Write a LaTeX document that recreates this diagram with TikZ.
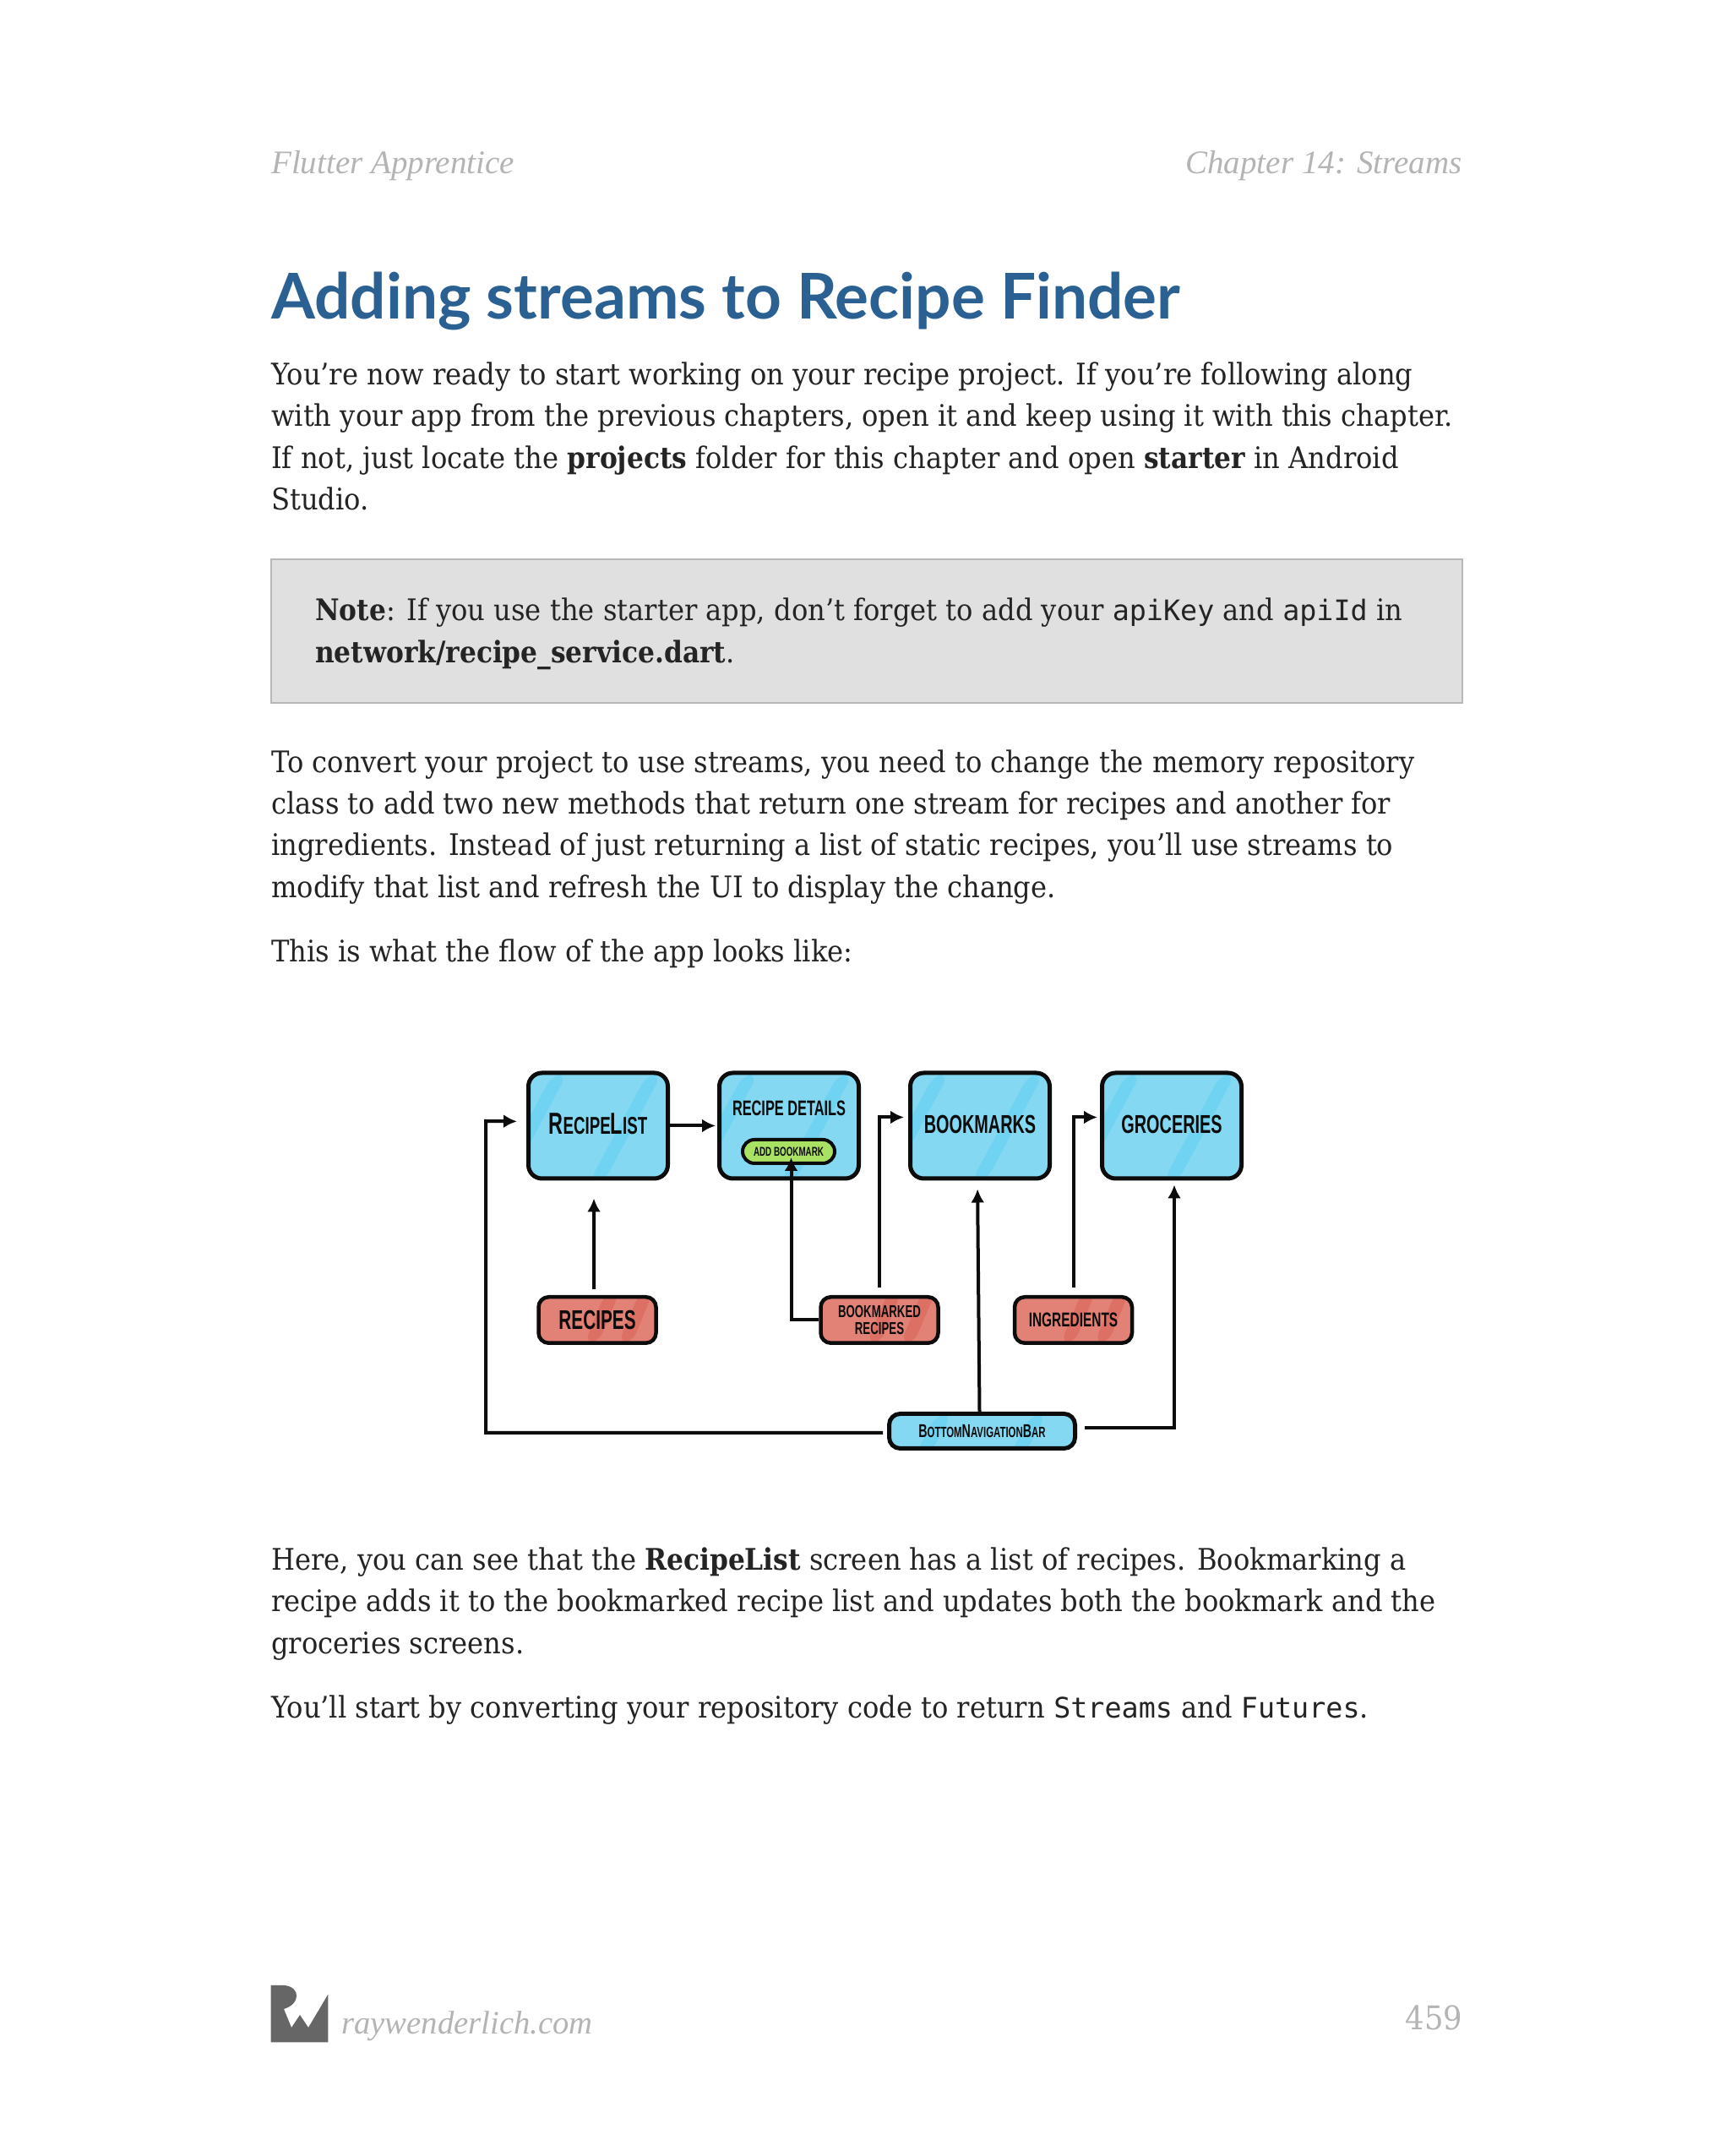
\documentclass[tikz,border=0pt]{standalone}
\usepackage{fontspec}
\usepackage{xcolor}
\usetikzlibrary{arrows.meta}
\setmainfont[FakeStretch=0.915, BoldFeatures={FakeStretch=0.89}]{DejaVu Serif}
\setmonofont[Scale=0.95]{DejaVu Sans Mono}
\newfontfamily\titlefont{Lato}
\newfontfamily\headfont{Liberation Serif}
\newfontfamily\sketchfont[FakeStretch=0.65]{Liberation Sans}
\definecolor{titleblue}{HTML}{2B6192}
\definecolor{headgrey}{HTML}{B4B4B4}
\definecolor{notegrey}{HTML}{E0E0E0}
\definecolor{noteline}{HTML}{B8B8B8}
\definecolor{screenblue}{HTML}{84D8F2}
\definecolor{streakblue}{HTML}{6FD3F1}
\definecolor{datared}{HTML}{E28277}
\definecolor{streakred}{HTML}{DD7065}
\definecolor{pillgreen}{HTML}{A9E162}
\definecolor{inkblack}{HTML}{0C0C0C}
\newcommand{\lettr}[1]{\scalebox{1.25}{#1}}
\newcommand{\sketchsize}[1]{\sketchfont\bfseries\fontsize{#1}{#1}\selectfont}

\begin{document}
\begin{tikzpicture}[
    >=Latex,
    para/.style={anchor=north west, inner sep=0pt, align=left, text=inkblack!90, font=\fontsize{10}{14.04}\selectfont},
    head/.style={anchor=base west, inner sep=0pt, text=headgrey, font=\headfont\itshape\fontsize{11.1}{13}\selectfont},
    screen/.style={draw=inkblack, line width=0.05cm, rounded corners=0.16cm, fill=screenblue, minimum width=1.65cm, minimum height=1.25cm, inner sep=0pt, text=inkblack,
      path picture={
        \fill[streakblue] ([xshift=-0.53cm]path picture bounding box.north) -- ++(0.17,0) -- ++(-0.7,-1.3) -- ++(-0.17,0) -- cycle;
        \fill[streakblue] ([xshift=0.59cm]path picture bounding box.north) -- ++(0.17,0) -- ++(-0.7,-1.3) -- ++(-0.17,0) -- cycle;
      }},
    data/.style={draw=inkblack, line width=0.045cm, rounded corners=0.12cm, fill=datared, minimum width=1.39cm, minimum height=0.545cm, inner sep=0pt, text=inkblack,
      path picture={
        \fill[streakred] ([xshift=-0.15cm]path picture bounding box.south) -- ++(0.16,0) -- ++(0.25,0.6) -- ++(-0.16,0) -- cycle;
        \fill[streakred] ([xshift=0.25cm]path picture bounding box.south) -- ++(0.16,0) -- ++(0.25,0.6) -- ++(-0.16,0) -- cycle;
      }},
    flow/.style={->, line width=0.04cm, draw=inkblack, >={Latex[length=0.16cm, width=0.16cm]}}
  ]
    \path[use as bounding box, fill=white] (0,0) rectangle (20.48,25.52);

    % Page head
    \node[head] (booktitle) at (3.205, 23.464) {Flutter Apprentice};
    \node[head, anchor=base east] (chaptertitle) at (17.31, 23.464) {Chapter 14: Streams};
    \node[anchor=base west, inner sep=0pt, text=titleblue, font=\titlefont\bfseries\fontsize{21.25}{25}\selectfont] (pagetitle) at (3.205, 21.745) {Adding streams to Recipe Finder};

    % Text
    \node[para] (intro) at (3.205, 21.238) {You’re now ready to start working on your recipe project. If you’re following along\\with your app from the previous chapters, open it and keep using it with this chapter.\\If not, just locate the \textbf{projects} folder for this chapter and open \textbf{starter} in Android\\Studio.};
    \node[draw=noteline, line width=0.02cm, fill=notegrey, minimum width=14.10cm, minimum height=1.70cm, inner sep=0pt] (notebox) at (10.26, 18.05) {};
    \node[para] (note) at (3.725, 18.447) {\textbf{Note}: If you use the starter app, don’t forget to add your \texttt{apiKey} and \texttt{apiId} in\\\textbf{network/recipe\_service.dart}.};
    \node[para] (convert) at (3.205, 16.653) {To convert your project to use streams, you need to change the memory repository\\class to add two new methods that return one stream for recipes and another for\\ingredients. Instead of just returning a list of static recipes, you’ll use streams to\\modify that list and refresh the UI to display the change.};
    \node[para] (flowline) at (3.205, 14.409) {This is what the flow of the app looks like:};

    % Screens
    \node[screen, font=\sketchsize{8.2}] (recipelist) at (7.08, 12.195) {\raisebox{0.05cm}{\lettr{R}ECIPE\lettr{L}IST}};
    \node[screen] (details) at (9.34, 12.195) {};
    \node[inner sep=0pt, text=inkblack, font=\sketchsize{7.15}] (detailslabel) at (9.34, 12.4) {RECIPE DETAILS};
    \node[draw=inkblack, line width=0.04cm, rounded corners=0.14cm, fill=pillgreen, minimum width=1.09cm, minimum height=0.28cm, inner sep=0pt, text=inkblack, font=\sketchsize{4.3}] (addbookmark) at (9.335, 11.89) {ADD BOOKMARK};
    \node[screen, font=\sketchsize{8.7}] (bookmarks) at (11.60, 12.195) {\raisebox{0.04cm}{BOOKMARKS}};
    \node[screen, font=\sketchsize{8.7}] (groceries) at (13.87, 12.195) {\raisebox{0.04cm}{GROCERIES}};

    % Data
    \node[data, font=\sketchsize{9.1}] (recipes) at (7.07, 9.895) {RECIPES};
    \node[data, align=center, font=\sketchsize{5.8}] (bookmarked) at (10.41, 9.895) {BOOKMARKED\\RECIPES};
    \node[data, font=\sketchsize{6.75}] (ingredients) at (12.705, 9.895) {INGREDIENTS};

    % Navigation bar
    \node[screen, rounded corners=0.13cm, minimum width=2.2cm, minimum height=0.41cm, font=\sketchsize{5}] (navbar) at (11.625, 8.58) {\lettr{B}OTTOM\lettr{N}AVIGATION\lettr{B}AR};
    \coordinate (leftbus) at (5.75, 12.25);

    % Connections
    \draw[flow, shorten >=0.02cm] (recipelist) -- (details);
    \draw[flow, shorten <=0.07cm, shorten >=0.21cm] ([xshift=-0.04cm]recipes.north) -- ([xshift=-0.05cm]recipelist.south);
    \draw[flow, shorten >=-0.09cm] (bookmarked.west) -| ([xshift=0.03cm]addbookmark.south);
    \draw[flow, shorten <=0.09cm, shorten >=0.05cm] (bookmarked.north) |- ([yshift=0.1cm]bookmarks.west);
    \draw[flow, shorten <=0.09cm, shorten >=0.03cm] (ingredients.north) |- ([yshift=0.1cm]groceries.west);
    \draw[flow, shorten >=0.1cm] ([xshift=-0.03cm]navbar.north) -- ([xshift=-0.03cm]bookmarks.south);
    \draw[flow, shorten <=0.09cm, shorten >=0.05cm] ([yshift=0.04cm]navbar.east) -| ([xshift=0.03cm]groceries.south);
    \draw[flow, shorten <=0.05cm, shorten >=0.11cm] ([yshift=-0.02cm]navbar.west) -| (leftbus) -- ([yshift=0.05cm]recipelist.west);

    % Text below the picture
    \node[para] (explain) at (3.205, 7.21) {Here, you can see that the \textbf{RecipeList} screen has a list of recipes. Bookmarking a\\recipe adds it to the bookmarked recipe list and updates both the bookmark and the\\groceries screens.};
    \node[para] (closing) at (3.205, 5.46) {You’ll start by converting your repository code to return \texttt{Streams} and \texttt{Futures}.};

    % Page foot
    \fill[black!60] (3.207,2.02) -- (3.367,2.02) .. controls (3.56,2.0) and (3.56,1.8) .. (3.36,1.74) -- (3.45,1.52) -- (3.55,1.67) -- (3.65,1.52) -- (3.883,1.913) -- (3.883,1.347) -- (3.207,1.347) -- cycle;
    \node[head, font=\headfont\itshape\fontsize{11}{13}\selectfont] (website) at (4.035, 1.445) {raywenderlich.com};
    \node[anchor=base east, inner sep=0pt, text=headgrey, font=\fontsize{11}{13}\selectfont] (pagenumber) at (17.32, 1.49) {459};
  \end{tikzpicture}
\end{document}
